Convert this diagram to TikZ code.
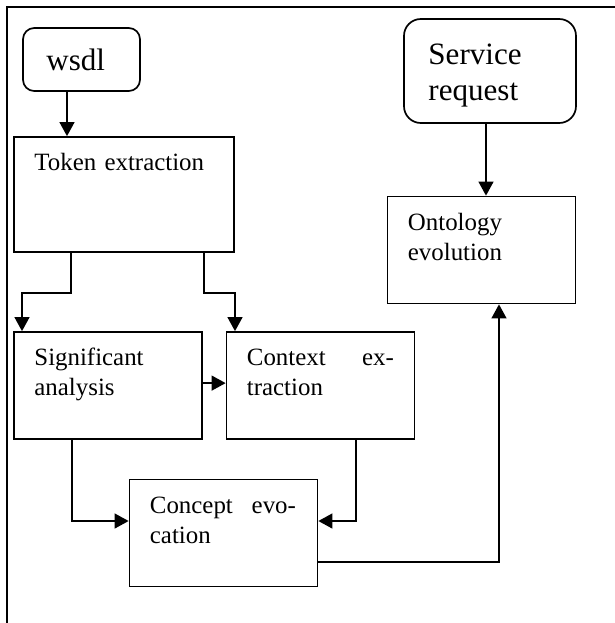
\documentclass[tikz,border=0pt]{standalone}
\usepackage{fontspec}
\setmainfont{Liberation Serif}
\usetikzlibrary{arrows.meta,positioning}

\begin{document}
\begin{tikzpicture}[
    >={Triangle[length=0.35cm,width=0.37cm]},
    stagebox/.style={draw, line width=1.2pt, minimum width=4.7cm, minimum height=2.675cm, inner sep=0pt},
    inputbox/.style={draw, line width=1.2pt, inner sep=0pt},
    boxtext/.style={anchor=base west, inner sep=0pt, align=left, text width=3.675cm, font=\fontsize{17.7}{21.3}\selectfont},
    bigtext/.style={anchor=base west, inner sep=0pt, align=left, text width=3.4cm, font=\fontsize{22.1}{25.6}\selectfont},
    flow/.style={->, line width=1.3pt},
]

\useasboundingbox (0,0) rectangle (15.375,-15.575);

% === Frame ===
\draw[line width=1.7pt] (15.375,-0.175) -- (0.175,-0.175) -- (0.175,-15.575);

% === Inputs ===
\node[inputbox, rounded corners=0.28cm, minimum width=2.925cm, minimum height=1.575cm] (wsdl) at (2.0375,-1.4875) {};
\node[bigtext, text width=2cm] (wsdltxt) at ([xshift=0.6cm, yshift=-1.075cm]wsdl.north west) {wsdl};
\node[inputbox, rounded corners=0.42cm, minimum width=4.3cm, minimum height=2.6cm] (sr) at (12.25,-1.775) {};
\node[bigtext] (srtxt) at ([xshift=0.625cm, yshift=-1.15cm]sr.north west) {Service\\request};

% === Stages ===
\node[stagebox, minimum width=5.5cm, minimum height=2.875cm] (tok) at (3.1,-4.8625) {};
\node[boxtext, text width=4.5cm] (toktxt) at ([xshift=0.525cm, yshift=-0.85cm]tok.north west) {Token extraction};
\node[stagebox] (onto) at (12.0375,-6.25) {};
\node[boxtext] (ontotxt) at ([xshift=0.525cm, yshift=-0.86cm]onto.north west) {Ontology\\evolution};
\node[stagebox] (sig) at (2.7,-9.6375) {};
\node[boxtext] (sigtxt) at ([xshift=0.525cm, yshift=-0.87cm]sig.north west) {Significant\\analysis};
\node[stagebox] (ctx) at (8.0125,-9.6375) {};
\node[boxtext] (ctxtxt) at ([xshift=0.525cm, yshift=-0.87cm]ctx.north west) {Context\hfill ex-\\traction};
\node[stagebox] (concept) at (5.5875,-13.325) {};
\node[boxtext, text width=3.65cm] (concepttxt) at ([xshift=0.525cm, yshift=-0.87cm]concept.north west) {Concept\hfill evo-\\cation};

% === Connectors ===
\draw[flow] ([xshift=-0.3625cm]wsdl.south) -- ([xshift=-0.3625cm]wsdl.south |- tok.north);
\draw[flow] ([xshift=-0.1cm]sr.south) -- ([xshift=-0.1cm]sr.south |- onto.north);
\draw[flow] ([xshift=-1.325cm]tok.south) -- ++(0,-1.0) -| ([xshift=-2.15cm]sig.north);
\draw[flow] ([xshift=2.0cm]tok.south) -- ++(0,-1.0) -| ([xshift=-2.1375cm]ctx.north);
\draw[flow] ([yshift=0.06cm]sig.east) -- ([yshift=0.06cm]ctx.west);
\draw[flow] ([xshift=-0.9cm]sig.south) |- ([yshift=0.3cm]concept.west);
\draw[flow] ([xshift=0.8875cm]ctx.south) |- ([yshift=0.3cm]concept.east);
\draw[flow] ([yshift=-0.725cm]concept.east) -| ([xshift=0.4375cm]onto.south);

\end{tikzpicture}
\end{document}
